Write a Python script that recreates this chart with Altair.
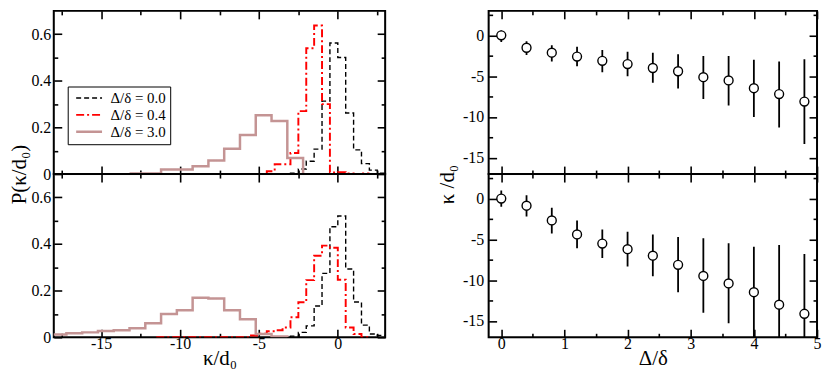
import altair as alt
import pandas as pd

FONT = "Liberation Serif"

SERIES = ["Δ/δ = 0.0", "Δ/δ = 0.4", "Δ/δ = 3.0"]
COLORS = ["#000000", "#ff0000", "#c49494"]
DASHES = [[5, 3], [8, 3, 2, 3], [1, 0]]
WIDTHS = [1.4, 2.5, 1.6]

# ---- histograms, upper left panel (left bin edges, value on that bin) ----
top_00_x = [-4.0, -3.5, -3.0, -2.5, -2.0, -1.5, -1.0, -0.5, 0.0, 0.5, 1.0, 1.5, 2.0, 2.5, 3.0]
top_00_p = [0.0, 0.0, 0.004, 0.022, 0.055, 0.107, 0.313, 0.562, 0.50, 0.262, 0.104, 0.045, 0.017, 0.004, 0.004]

top_04_x = [-7.5, -5.0, -4.5, -4.0, -3.5, -3.0, -2.5, -2.0, -1.5, -1.0, -0.5, 0.0, 0.5, 1.0, 1.5, 2.0]
top_04_p = [0.0, 0.0, 0.012, 0.042, 0.042, 0.09, 0.27, 0.54, 0.637, 0.30, 0.007, 0.008, 0.003, 0.0, 0.003, 0.003]

top_30_x = [-13.2, -12.2, -11.2, -10.2, -9.2, -8.2, -7.2, -6.2, -5.2, -4.2, -3.2, -2.2]
top_30_p = [0.003, 0.003, 0.02, 0.02, 0.034, 0.058, 0.109, 0.168, 0.252, 0.228, 0.069, 0.0]

# ---- histograms, lower left panel ----
bot_00_x = [-4.0, -3.0, -2.5, -2.0, -1.5, -1.0, -0.5, 0.0, 0.5, 1.0, 1.5, 2.0, 2.5, 3.0]
bot_00_p = [0.0, 0.005, 0.021, 0.049, 0.134, 0.274, 0.474, 0.52, 0.293, 0.151, 0.052, 0.014, 0.008, 0.008]

bot_04_x = [-11.5, -5.5, -5.0, -4.5, -4.0, -3.5, -3.0, -2.5, -2.0, -1.5, -1.0, -0.5, 0.0, 0.5, 1.0, 1.5, 2.0]
bot_04_p = [0.0, 0.008, 0.015, 0.026, 0.03, 0.042, 0.086, 0.15, 0.245, 0.35, 0.393, 0.384, 0.247, 0.042, 0.014, 0.0, 0.0]

bot_30_x = [-18.2, -17.2, -16.2, -15.2, -14.2, -13.2, -12.2, -11.2, -10.2, -9.2, -8.2, -7.2, -6.2, -5.2, -4.2, -3.2]
bot_30_p = [0.012, 0.017, 0.021, 0.027, 0.030, 0.039, 0.060, 0.100, 0.116, 0.170, 0.166, 0.116, 0.077, 0.014, 0.003, 0.0]

# ---- mean curvature vs Delta/delta, right panels ----
dd = [0.0, 0.4, 0.8, 1.2, 1.6, 2.0, 2.4, 2.8, 3.2, 3.6, 4.0, 4.4, 4.8]
top_k = [0.0, -1.52, -2.12, -2.6, -3.12, -3.52, -4.0, -4.4, -5.12, -5.52, -6.48, -7.2, -8.12]
top_lo = [-0.8, -2.4, -3.2, -3.8, -4.52, -5.0, -5.8, -6.52, -7.8, -8.6, -10.0, -11.28, -13.32]
top_hi = [0.6, -0.72, -1.2, -1.4, -1.8, -2.0, -2.12, -2.32, -2.52, -2.52, -3.0, -3.2, -2.92]
bot_k = [0.0, -0.88, -2.68, -4.4, -5.52, -6.2, -7.0, -8.12, -9.48, -10.4, -11.48, -13.0, -14.12]
bot_lo = [-1.0, -2.2, -4.28, -6.08, -7.28, -8.32, -9.52, -11.48, -14.0, -15.28, -17.1, -20.3, -21.4]
bot_hi = [1.0, 0.4, -1.12, -2.68, -3.8, -4.08, -4.4, -4.72, -4.88, -5.48, -5.92, -5.68, -6.8]

# axis ticks / domains
hx_dom = [-18, 3]
hy_dom = [0, 0.7]
hx_major = [-15, -10, -5, 0]
hx_minor = [-17.5, -12.5, -7.5, -2.5, 2.5]
hy_major = [0, 0.2, 0.4, 0.6]
hy_minor = [0.1, 0.3, 0.5]
kx_dom = [-0.2, 5]
ky_dom = [-17, 3]
kx_major = [0, 1, 2, 3, 4, 5]
kx_minor = [0.5, 1.5, 2.5, 3.5, 4.5]
ky_major = [-15, -10, -5, 0]
ky_minor = [-12.5, -7.5, -2.5, 2.5]

W_L, W_R, H = 333, 330, 164
LBL = 16
TTL = 21

INT_EXPR = "datum.value < 0 ? '-' + format(-datum.value, 'd') : format(datum.value, 'd')"
P_EXPR = "datum.value == 0 ? '0' : format(datum.value, '.1f')"


def hist_df(xs_list, ps_list):
    rows = []
    for s, xs, ps in zip(SERIES, xs_list, ps_list):
        for x, p in zip(xs, ps):
            rows.append({"series": s, "x": x, "p": p})
    return pd.DataFrame(rows)


def ax(orient, values, size, labels=False, expr=None, title=None, **kw):
    d = dict(orient=orient, values=values, tickSize=size, offset=-size,
             labels=labels, domain=False, grid=False, ticks=True,
             tickColor="black", tickWidth=1.6, labelFlush=False,
             labelOverlap=False, labelFont=FONT, labelFontSize=LBL,
             labelColor="black", labelPadding=4)
    if expr is not None:
        d["labelExpr"] = expr
    d.update(kw)
    return alt.Axis(title=title, **d)


def frame(xdom, ydom, xmaj, xmin, ymaj, ymin, xlab, xexpr, yexpr, w, h,
          xtitle=None, ytitle=None, ytitleY=0, ytitlepad=4, ylabpad=4):
    xs = alt.Scale(domain=xdom, nice=False, zero=False)
    ys = alt.Scale(domain=ydom, nice=False, zero=False)
    carrier = pd.DataFrame({"ax": [xdom[0]], "ay": [ydom[0]]})
    base = alt.Chart(carrier).mark_point(opacity=0)
    xkw = dict(labelPadding=-2)
    if xtitle is not None:
        xkw.update(titleFont=FONT, titleFontSize=TTL, titleFontWeight="normal",
                   titleColor="black", titleY=35, titleBaseline="alphabetic")
    ykw = dict(labelPadding=ylabpad)
    if ytitle is not None:
        ykw.update(titleFont=FONT, titleFontSize=TTL, titleFontWeight="normal",
                   titleColor="black", titlePadding=ytitlepad, titleY=ytitleY)
    l1 = base.encode(
        x=alt.X("ax:Q", scale=xs, axis=ax("bottom", xmaj, 8, xlab, xexpr if xlab else None, xtitle, **xkw)),
        y=alt.Y("ay:Q", scale=ys, axis=ax("left", ymaj, 8, True, yexpr, ytitle, **ykw)),
    )
    l2 = base.encode(
        x=alt.X("ax:Q", scale=xs, axis=ax("bottom", xmin, 4)),
        y=alt.Y("ay:Q", scale=ys, axis=ax("left", ymin, 4)),
    )
    l3 = base.encode(
        x=alt.X("ax:Q", scale=xs, axis=ax("top", xmaj, 8)),
        y=alt.Y("ay:Q", scale=ys, axis=ax("right", ymaj, 8)),
    )
    l4 = base.encode(
        x=alt.X("ax:Q", scale=xs, axis=ax("top", xmin, 4)),
        y=alt.Y("ay:Q", scale=ys, axis=ax("right", ymin, 4)),
    )
    box = alt.Chart(carrier).mark_rect(filled=False, stroke="black", strokeWidth=2).encode(
        x=alt.value(0), x2=alt.value(w), y=alt.value(0), y2=alt.value(h)
    )
    return [l1, l2, l3, l4, box], xs, ys


def hist_panel(df, bottom, show_legend):
    layers, xs, ys = frame(hx_dom, hy_dom, hx_major, hx_minor, hy_major, hy_minor,
                           bottom, INT_EXPR, P_EXPR, W_L, H,
                           xtitle="κ/d₀" if bottom else None,
                           ytitle="P(κ/d₀)" if bottom else None, ytitleY=0,
                           ytitlepad=1, ylabpad=3)
    if show_legend:
        leg = alt.Legend(orient="none", legendX=14, legendY=76, title=None,
                         symbolType="M-2.6,0H2.6", symbolSize=100, symbolOffset=10,
                         labelFont=FONT, labelFontSize=15, labelColor="black",
                         strokeColor="black", fillColor="white", padding=4,
                         rowPadding=1, labelOffset=14, cornerRadius=0)
    else:
        leg = None
    line = alt.Chart(df).mark_line(interpolate="step-after", clip=True).encode(
        x=alt.X("x:Q", scale=xs, axis=None),
        y=alt.Y("p:Q", scale=ys, axis=None),
        color=alt.Color("series:N", scale=alt.Scale(domain=SERIES, range=COLORS), legend=leg),
        strokeDash=alt.StrokeDash("series:N", scale=alt.Scale(domain=SERIES, range=DASHES), legend=leg),
        strokeWidth=alt.StrokeWidth("series:N", scale=alt.Scale(domain=SERIES, range=WIDTHS), legend=leg),
    )
    return alt.layer(*layers, line).resolve_axis(x="independent", y="independent").properties(width=W_L, height=H)


def k_panel(k, lo, hi, bottom):
    layers, xs, ys = frame(kx_dom, ky_dom, kx_major, kx_minor, ky_major, ky_minor,
                           bottom, INT_EXPR, INT_EXPR, W_R, H,
                           xtitle="Δ/δ" if bottom else None,
                           ytitle="κ /d₀" if bottom else None, ytitleY=10,
                           ytitlepad=5, ylabpad=5)
    df = pd.DataFrame({"d": dd, "k": k, "lo": lo, "hi": hi})
    bars = alt.Chart(df).mark_rule(color="black", strokeWidth=1.8, clip=True).encode(
        x=alt.X("d:Q", scale=xs, axis=None),
        y=alt.Y("lo:Q", scale=ys, axis=None),
        y2="hi:Q",
    )
    pts = alt.Chart(df).mark_point(shape="circle", filled=True, fill="white", stroke="black",
                                   strokeWidth=1.4, size=80, opacity=1).encode(
        x=alt.X("d:Q", scale=xs, axis=None),
        y=alt.Y("k:Q", scale=ys, axis=None),
    )
    return alt.layer(*layers, bars, pts).resolve_axis(x="independent", y="independent").properties(width=W_R, height=H)


top_hist = hist_df([top_00_x, top_04_x, top_30_x], [top_00_p, top_04_p, top_30_p])
bot_hist = hist_df([bot_00_x, bot_04_x, bot_30_x], [bot_00_p, bot_04_p, bot_30_p])

TL = hist_panel(top_hist, False, True)
BL = hist_panel(bot_hist, True, False)
TR = k_panel(top_k, top_lo, top_hi, False)
BR = k_panel(bot_k, bot_lo, bot_hi, True)

chart = alt.concat(TL, TR, BL, BR, columns=2, spacing={"row": 0, "column": 104}, bounds="flush").resolve_scale(
    color="independent", strokeDash="independent", strokeWidth="independent"
).properties(
    padding={"left": 0, "top": 0, "right": 0, "bottom": 0}
).configure_view(strokeWidth=0).configure(font=FONT, background="white")

chart.save("out.html", embed_options={"renderer": "svg", "actions": False})
